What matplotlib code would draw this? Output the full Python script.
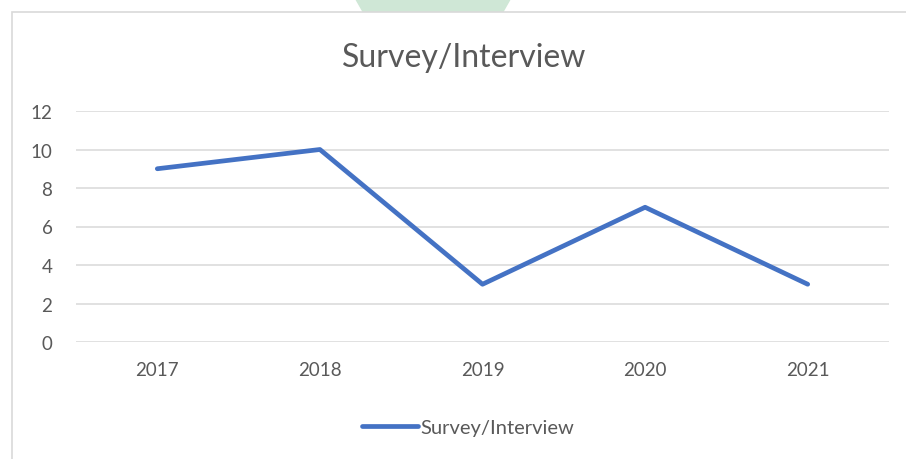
import matplotlib.pyplot as plt
from matplotlib.patches import Rectangle, Polygon

years = ["2017", "2018", "2019", "2020", "2021"]
counts = [9, 10, 3, 7, 3]
series_name = "Survey/Interview"

plt.rcParams["font.family"] = ["Lato", "DejaVu Sans"]

W, H = 906, 460
fig = plt.figure(figsize=(W / 100, H / 100), dpi=100)

# faint green shape peeking out above the chart box
fig.patches.append(Polygon(
    [(355 / W, 1), (511 / W, 1), (503 / W, 1 - 14 / H), (363 / W, 1 - 14 / H)],
    closed=True, transform=fig.transFigure, facecolor="#cfe7d6",
    edgecolor="none", zorder=0))

# chart box (runs off the right and bottom edges)
fig.patches.append(Rectangle(
    (12 / W, -0.05), 1.0, 1 - 13 / H + 0.05, transform=fig.transFigure,
    facecolor="white", edgecolor="#d9d9d9", linewidth=1.2, zorder=1))

left, right = 76 / W, 889 / W
bottom, top = 1 - 343 / H, 1 - 112 / H
ax = fig.add_axes([left, bottom, right - left, top - bottom])
ax.set_zorder(2)
ax.patch.set_alpha(0)

x = range(len(years))
line, = ax.plot(x, counts, color="#4472C4", linewidth=3.4,
                solid_capstyle="round", solid_joinstyle="round",
                label=series_name, clip_on=False)

ax.set_xlim(-0.5, len(years) - 0.5)
ax.set_ylim(0, 12)
ax.set_yticks(range(0, 13, 2))
ax.set_xticks(list(x))
ax.set_xticklabels(years)
ax.grid(axis="y", color="#d9d9d9", linewidth=1.1)
ax.set_axisbelow(True)
for s in ax.spines.values():
    s.set_visible(False)
ax.tick_params(length=0, labelsize=13.5, labelcolor="#595959")
ax.tick_params(axis="y", pad=17)
ax.tick_params(axis="x", pad=14)

fig.text(464 / W, 1 - 58 / H, series_name, ha="center", va="center",
         fontsize=23, color="#595959", zorder=3)

fig.legend(handles=[line], loc="center", bbox_to_anchor=(468 / W, 1 - 428 / H),
           frameon=False, fontsize=14.5, labelcolor="#595959",
           handlelength=2.8, handletextpad=0.1)

fig.savefig("out.png", dpi=100)
